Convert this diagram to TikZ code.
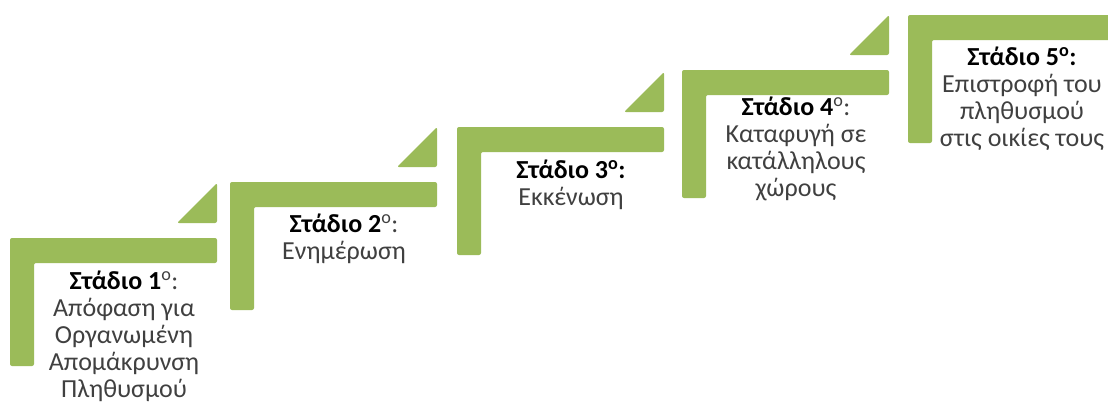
\documentclass[tikz,border=0pt]{standalone}
\usepackage{fontspec}
\setmainfont{Carlito}
\usetikzlibrary{positioning}
\definecolor{stepgreen}{HTML}{9BBB59}
\definecolor{textgray}{HTML}{404040}
\newcommand{\stagehead}[1]{\textcolor{black}{\textbf{#1}}}
\tikzset{
  bar/.style={fill=stepgreen, rounded corners=2pt},
  steptext/.style={align=center, inner sep=0pt, text=textgray, font=\fontsize{26}{27}\selectfont}
}
\begin{document}
\begin{tikzpicture}[x=1pt, y=-1pt]
\useasboundingbox (0,0) rectangle (1108,407);

% the five steps
\foreach \n/\x/\y in {1/10/238, 2/230/182, 3/457/127, 4/682/70, 5/908/15}{
  \fill [bar] (\x,\y) -- (\x+207,\y) -- (\x+207,\y+25) -- (\x+24,\y+25) -- (\x+24,\y+128) -- (\x,\y+128) -- cycle;
  \coordinate (c\n) at (\x+114,\y+25);
}

% triangles up to the next step
\foreach \x/\y in {10/238, 230/182, 457/127, 682/70}
  \fill [bar] (\x+167,\y-15) -- (\x+207,\y-55) -- (\x+207,\y-15) -- cycle;

\node [steptext, below=8pt of c1] (s1) {\stagehead{Στάδιο 1}\textsuperscript{ο}:\\Απόφαση για\\Οργανωμένη\\Απομάκρυνση\\Πληθυσμού};
\node [steptext, below=7pt of c2] (s2) {\stagehead{Στάδιο 2}\textsuperscript{ο}:\\Ενημέρωση};
\node [steptext, below=8pt of c3] (s3) {\stagehead{Στάδιο 3\textsuperscript{ο}:}\\Εκκένωση};
\node [steptext, below=2pt of c4] (s4) {\stagehead{Στάδιο 4}\textsuperscript{ο}:\\Καταφυγή σε\\κατάλληλους\\χώρους};
\node [steptext, below=7pt of c5] (s5) {\stagehead{Στάδιο 5\textsuperscript{ο}:}\\Επιστροφή του\\πληθυσμού\\στις οικίες τους};
\end{tikzpicture}
\end{document}
